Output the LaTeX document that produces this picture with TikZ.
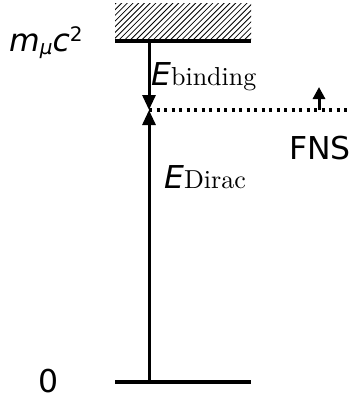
\documentclass[tikz,border=0pt]{standalone}
\usepackage{fontspec}
\setmainfont{DejaVu Sans}
\newfontfamily\cmroman{lmroman10-regular.otf}
\usetikzlibrary{arrows.meta}
\tikzset{
  level/.style={line width=4pt},
  hatch/.style={line width=0.8pt},
  ar/.style={-{Triangle[length=15pt,width=13pt]},line width=3pt},
  arsmall/.style={-{Triangle[length=12pt,width=12pt]},line width=3pt},
  dots/.style={line width=3.2pt,dash pattern=on 3.2pt off 4.3pt},
  lbl/.style={inner sep=0pt,anchor=base west,text depth=0pt,font=\fontsize{31.5}{36}\selectfont},
}
\newcommand{\subrm}[1]{{\cmroman\fontsize{26}{28}\selectfont #1}}
\newcommand{\smallsf}[1]{{\fontsize{20}{22}\selectfont #1}}

\begin{document}
\begin{tikzpicture}[x=1pt,y=-1pt]
  \useasboundingbox (0,0) rectangle (352,396);
  % levels and points
  \coordinate (topL) at (115,41);
  \coordinate (topR) at (251,41);
  \coordinate (botL) at (115,382);
  \coordinate (botR) at (251,382);
  \coordinate (top) at (149,41);
  \coordinate (mid) at (149,110);
  \coordinate (bot) at (149,382);
  \coordinate (dotR) at (351,110);
  \coordinate (fnsA) at (319,110);
  \coordinate (fnsB) at (319,87);
  % hatched continuum
  \begin{scope}
    \clip (115,4) rectangle (251,41);
    \foreach \i in {0,5.7,...,190}
      \draw[hatch] (75+\i,44) -- ++(42,-42);
  \end{scope}
  \draw[level] (topL) -- (topR);
  \draw[level] (botL) -- (botR);
  \draw[ar] (top) -- (mid);
  \draw[ar] (bot) -- (mid);
  \draw[dots] (mid) -- (dotR);
  \draw[arsmall] (fnsA) -- (fnsB);
  % labels
  \node[lbl] (mc) at (9,52) {\textit{m}\raisebox{-3pt}{\smallsf{\textit{μ}}}\textit{c}\raisebox{10pt}{\smallsf{2}}};
  \node[lbl] (zero) at (38,392) {0};
  \node[lbl] (ebind) at (151,85) {\textit{E}\subrm{binding}};
  \node[lbl] (edirac) at (164,188) {\textit{E}\subrm{Dirac}};
  \node[lbl] (fns) at (289,159) {FNS};
\end{tikzpicture}
\end{document}
